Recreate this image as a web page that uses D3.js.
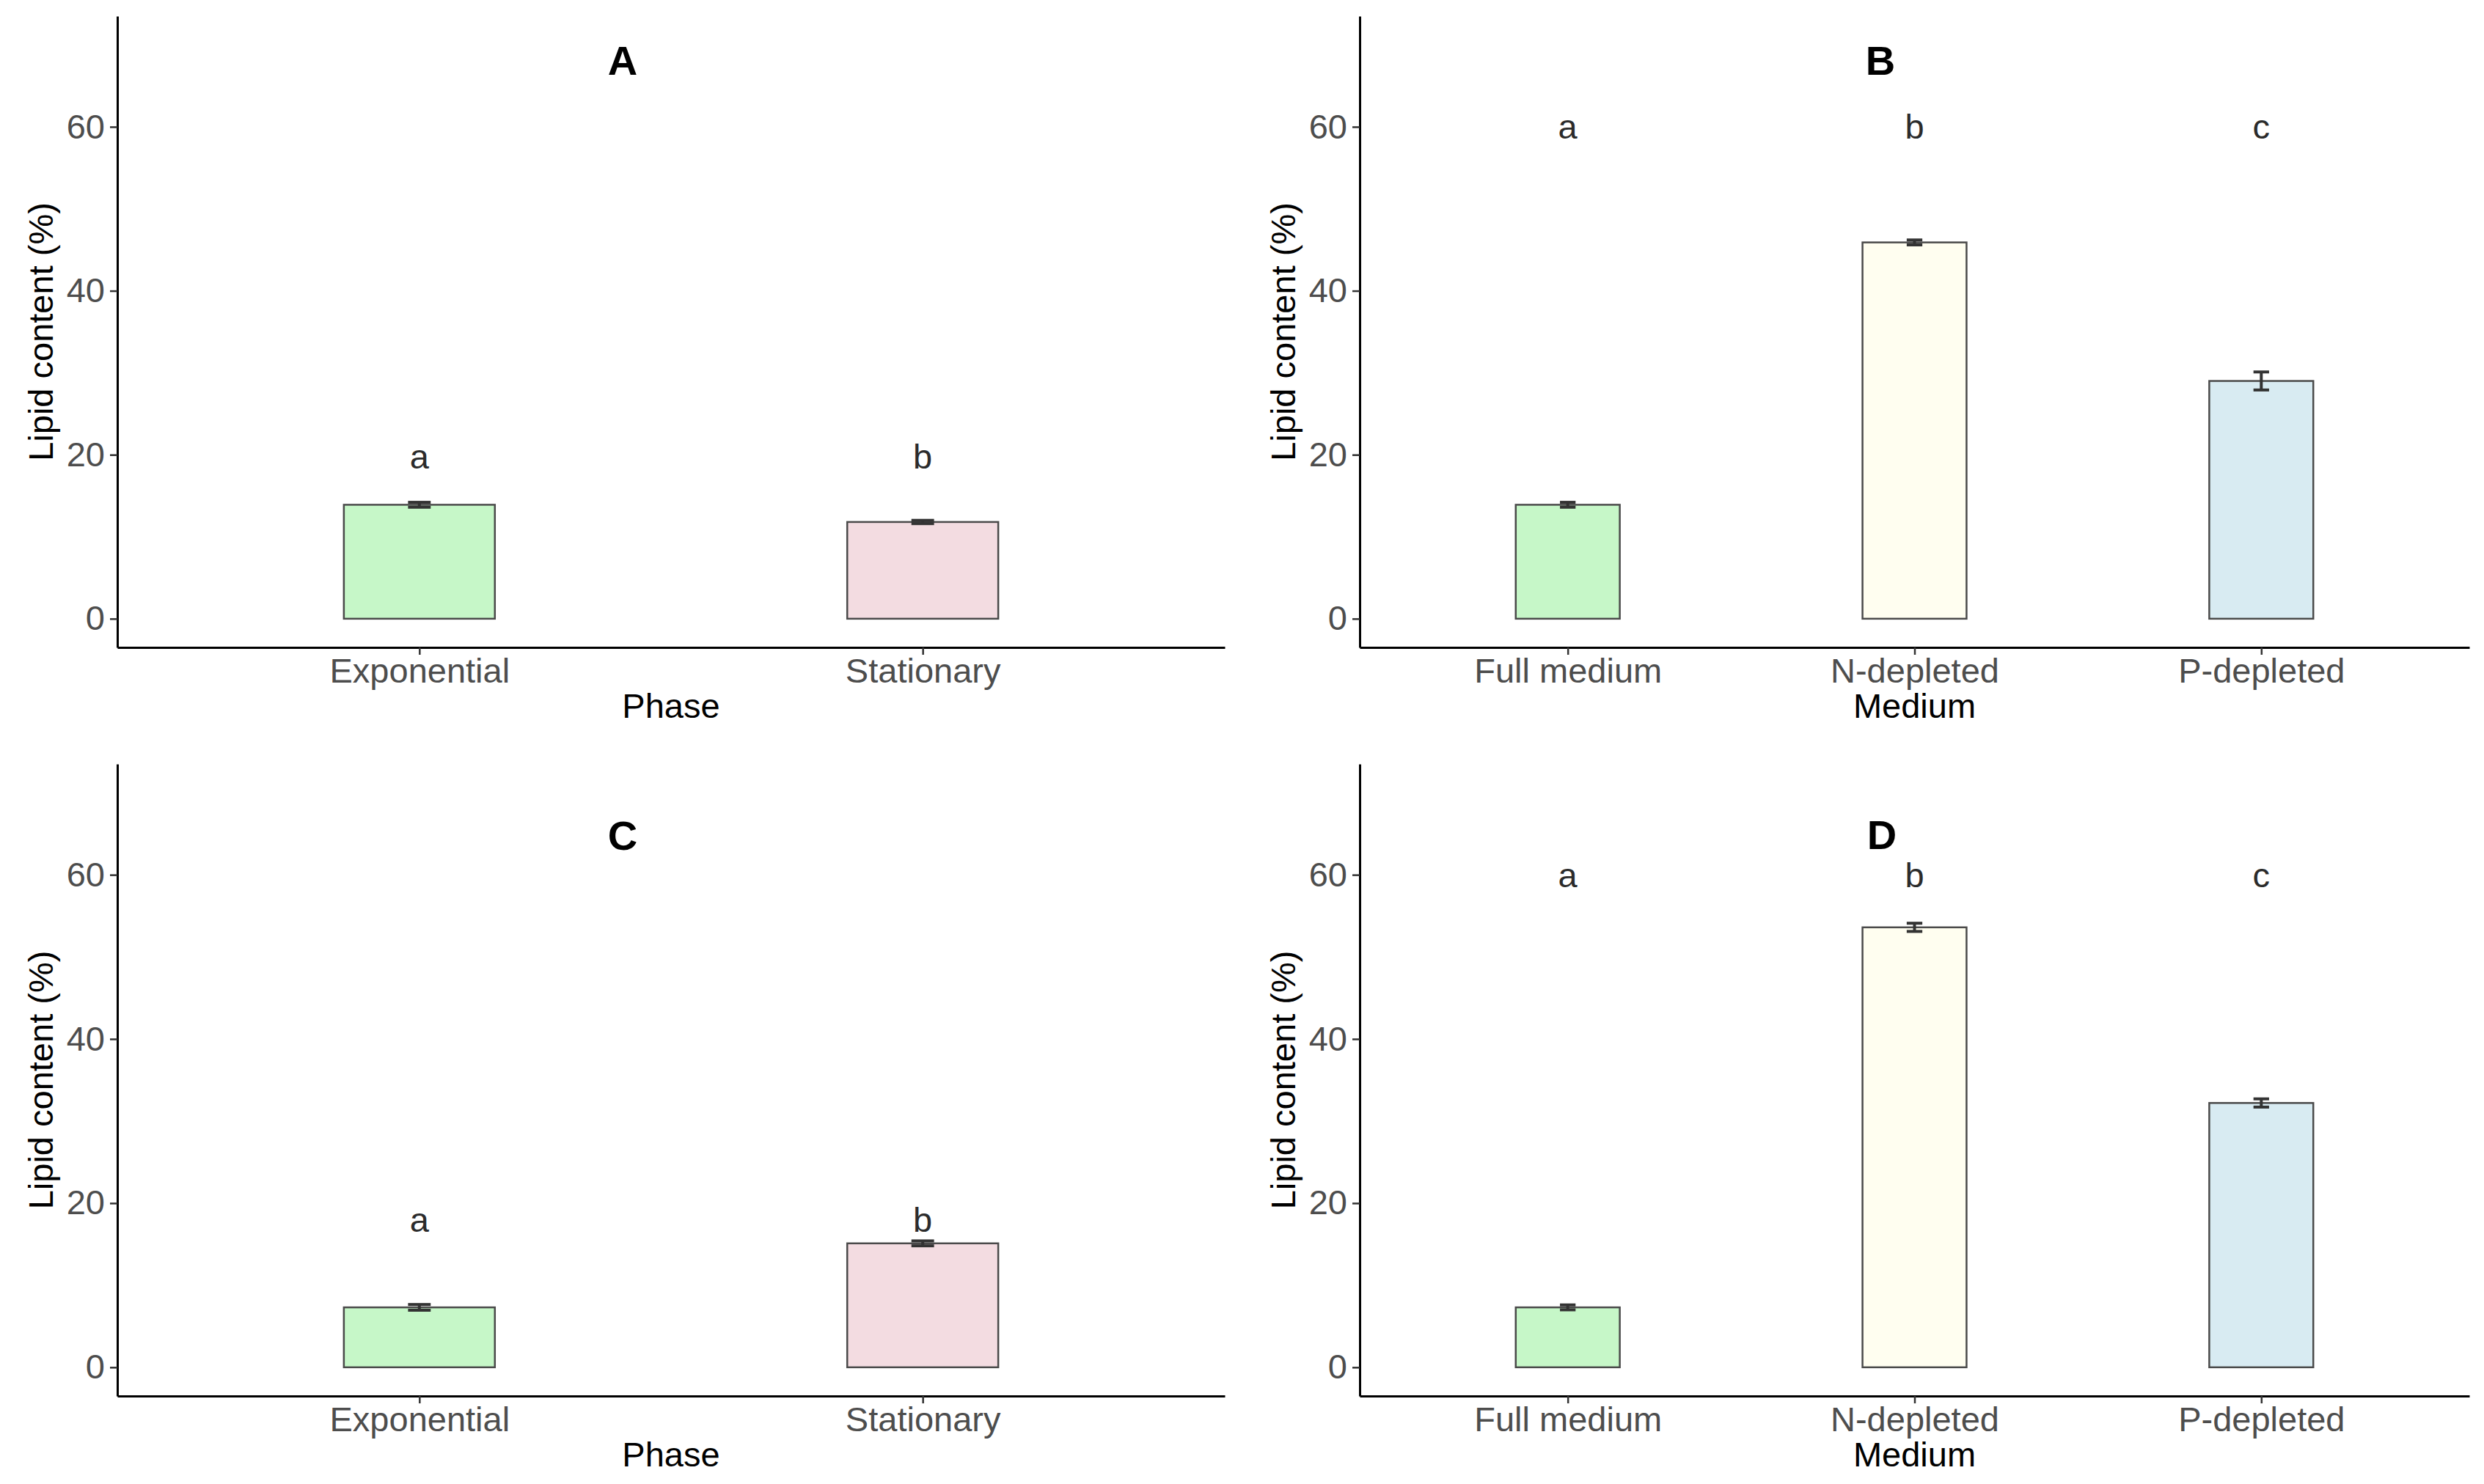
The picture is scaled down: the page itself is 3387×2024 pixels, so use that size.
<!DOCTYPE html>
<html>
<head>
<meta charset="utf-8">
<script src="https://cdn.jsdelivr.net/npm/d3@7"></script>
<style>
  body { margin: 0; background: #fff; }
  svg { display: block; font-family: "Liberation Sans", Arial, sans-serif; }
</style>
</head>
<body>
<svg id="chart" width="3387" height="2024"></svg>
<script>
// ---- data ----
var phases = ["Exponential", "Stationary"]
var media = ["Full medium", "N-depleted", "P-depleted"]

var lipidA = [13.9, 11.8]
var errA = [0.3, 0.2]
var lettersA = ["a", "b"]

var lipidB = [13.9, 45.9, 29.0]
var errB = [0.3, 0.3, 1.1]
var lettersB = ["a", "b", "c"]

var lipidC = [7.3, 15.1]
var errC = [0.35, 0.3]
var lettersC = ["a", "b"]

var lipidD = [7.3, 53.6, 32.2]
var errD = [0.3, 0.5, 0.5]
var lettersD = ["a", "b", "c"]

var phaseColors = ["#c6f7c8", "#f3dce1"]
var mediumColors = ["#c6f7c8", "#fffef0", "#d8ebf2"]

var yTicks = [0, 20, 40, 60]
var yDomain = [-3.5, 73.5]

var svg = d3.select("#chart")

function panel(cfg) {
    var g = svg.append("g")
    var x = d3.scalePoint().domain(cfg.cats).range([cfg.x0, cfg.x1]).padding(0.6)
    var y = d3.scaleLinear().domain(yDomain).range([cfg.y1, cfg.y0])
    var step = x.step()
    var bw = step * 0.3
    var ew = step * 0.045
    var rows = cfg.cats.map((c, i) => ({cat: c, v: cfg.vals[i], e: cfg.errs[i], fill: cfg.colors[i], lab: cfg.letters[i]}))

    // bars
    g.selectAll(".bar").data(rows).join("rect").attr("class", "bar")
        .attr("x", d => x(d.cat) - bw / 2).attr("width", bw)
        .attr("y", d => y(d.v)).attr("height", d => y(0) - y(d.v))
        .attr("fill", d => d.fill).attr("stroke", "#4a4a4a").attr("stroke-width", 2.5)

    // error bars
    var eb = g.selectAll(".err").data(rows).join("g").attr("class", "err")
        .attr("stroke", "#333").attr("stroke-width", 4)
    eb.append("line").attr("x1", d => x(d.cat)).attr("x2", d => x(d.cat))
        .attr("y1", d => y(d.v - d.e)).attr("y2", d => y(d.v + d.e))
    eb.append("line").attr("x1", d => x(d.cat) - ew / 2).attr("x2", d => x(d.cat) + ew / 2)
        .attr("y1", d => y(d.v + d.e)).attr("y2", d => y(d.v + d.e))
    eb.append("line").attr("x1", d => x(d.cat) - ew / 2).attr("x2", d => x(d.cat) + ew / 2)
        .attr("y1", d => y(d.v - d.e)).attr("y2", d => y(d.v - d.e))

    // significance letters
    g.selectAll(".lett").data(rows).join("text").attr("class", "lett")
        .attr("x", d => x(d.cat)).attr("y", y(cfg.letterY))
        .attr("text-anchor", "middle").attr("font-size", 47).attr("fill", "#2b2b2b")
        .text(d => d.lab)

    // axes
    var ya = g.append("g").attr("transform", "translate(" + cfg.x0 + ",0)")
        .call(d3.axisLeft(y).tickValues(yTicks).tickSize(10).tickSizeOuter(0).tickPadding(7))
    var xa = g.append("g").attr("transform", "translate(0," + cfg.y1 + ")")
        .call(d3.axisBottom(x).tickSize(10).tickSizeOuter(0).tickPadding(5))
    ;[ya, xa].forEach(a => {
        a.select(".domain").attr("stroke", "#000").attr("stroke-width", 3)
        a.selectAll(".tick line").attr("stroke", "#333").attr("stroke-width", 2.5)
        a.selectAll(".tick text").attr("font-size", 47).attr("fill", "#4d4d4d")
            .attr("font-family", "Liberation Sans, Arial, sans-serif")
    })

    // axis titles
    g.append("text").attr("x", (cfg.x0 + cfg.x1) / 2).attr("y", cfg.y1 + 96)
        .attr("text-anchor", "middle").attr("font-size", 47).attr("fill", "#000").text(cfg.xTitle)
    g.append("text").attr("transform", "translate(" + (cfg.x0 - 105) + "," + ((cfg.y0 + cfg.y1) / 2) + ") rotate(-90)")
        .attr("text-anchor", "middle").attr("dominant-baseline", "central")
        .attr("font-size", 47).attr("fill", "#000").text("Lipid content (%)")

    // panel letter
    g.append("text").attr("x", cfg.tx).attr("y", cfg.ty).attr("text-anchor", "middle")
        .attr("font-size", 56).attr("font-weight", "bold").attr("fill", "#000").text(cfg.title)
}

panel({title: "A", tx: 849, ty: 102, cats: phases, vals: lipidA, errs: errA, letters: lettersA, letterY: 18.3,
    colors: phaseColors, xTitle: "Phase", x0: 160, x1: 1670, y0: 22, y1: 883})
panel({title: "B", tx: 2564, ty: 102, cats: media, vals: lipidB, errs: errB, letters: lettersB, letterY: 58.6,
    colors: mediumColors, xTitle: "Medium", x0: 1854, x1: 3367, y0: 22, y1: 883})
panel({title: "C", tx: 849, ty: 1159, cats: phases, vals: lipidC, errs: errC, letters: lettersC, letterY: 16.5,
    colors: phaseColors, xTitle: "Phase", x0: 160, x1: 1670, y0: 1042, y1: 1904})
panel({title: "D", tx: 2566, ty: 1158, cats: media, vals: lipidD, errs: errD, letters: lettersD, letterY: 58.5,
    colors: mediumColors, xTitle: "Medium", x0: 1854, x1: 3367, y0: 1042, y1: 1904})
</script>
</body>
</html>
